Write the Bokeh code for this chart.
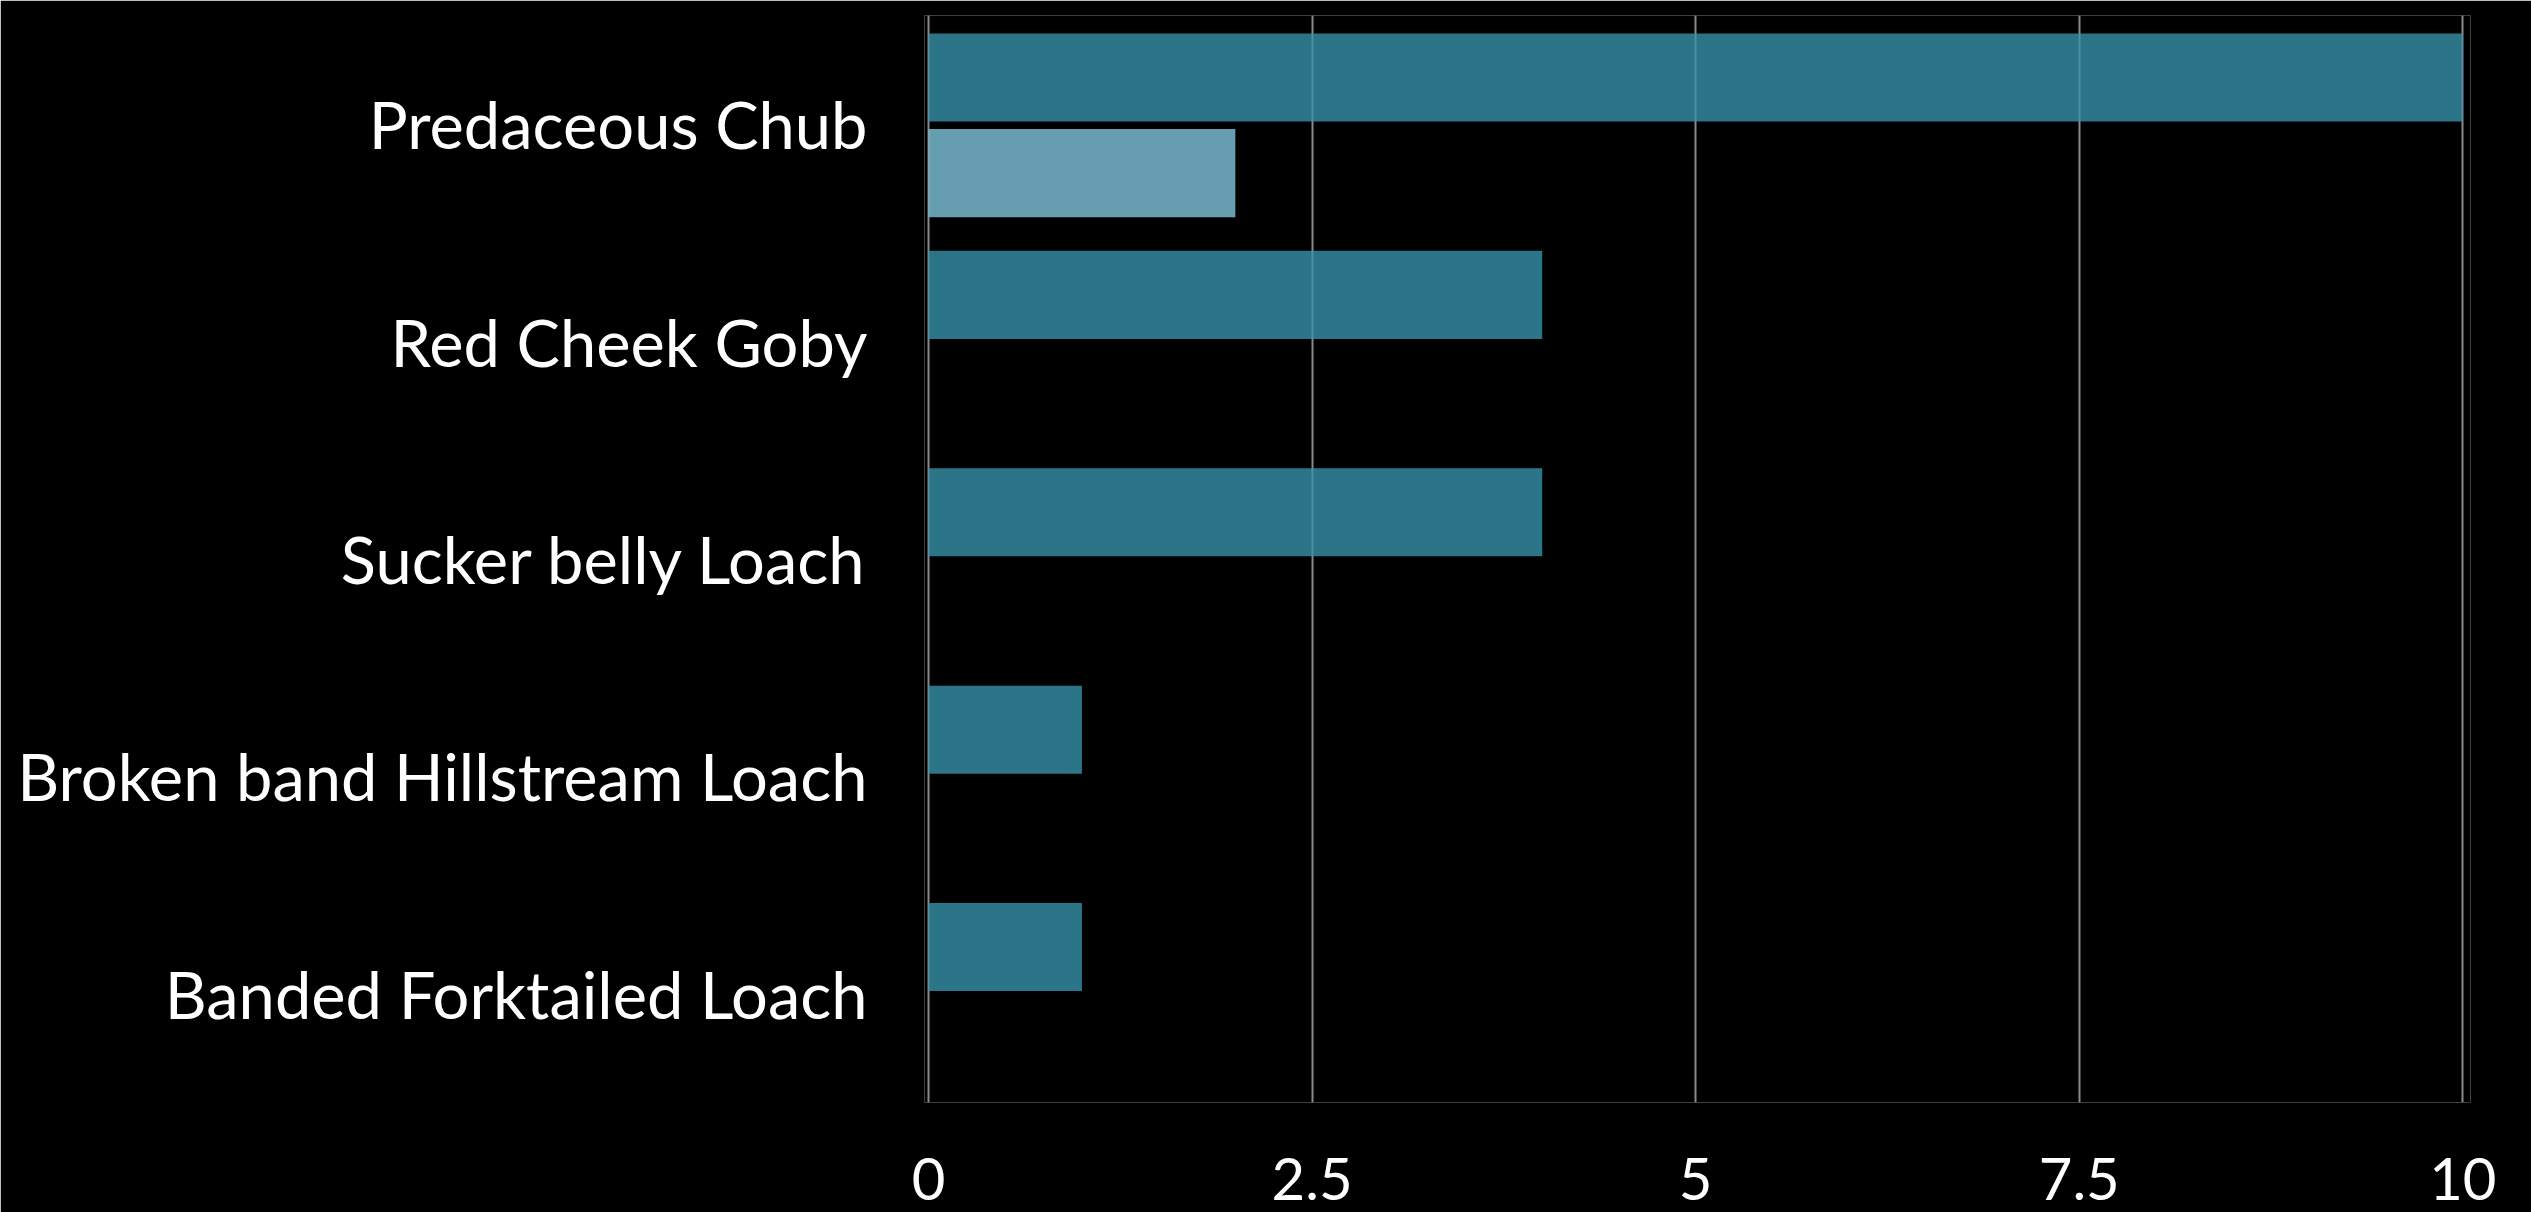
from bokeh.plotting import figure
from bokeh.models import FactorRange, Range1d, ColumnDataSource, FixedTicker
from bokeh.transform import dodge
from bokeh.embed import file_html
from bokeh.resources import INLINE

# Data (bottom -> top order for the categorical y axis)
species = ["Banded Forktailed Loach", "Broken band Hillstream Loach",
           "Sucker belly Loach", "Red Cheek Goby", "Predaceous Chub"]
series_a = [1, 1, 4, 4, 10]
series_b = [0, 0, 0, 0, 2]
x_ticks = [0, 2.5, 5, 7.5, 10]
x_tick_labels = {0: "0", 2.5: "2.5", 5: "5", 7.5: "7.5", 10: "10"}

src = ColumnDataSource(dict(cat=species, a=series_a, b=series_b))

p = figure(y_range=FactorRange(*species, range_padding=0),
           x_range=Range1d(-0.026, 10.05),
           width=2531, height=1212,
           min_border_left=924, min_border_top=15, min_border_right=61,
           min_border_bottom=110,
           output_backend="svg", toolbar_location=None,
           background_fill_color="black", border_fill_color="black")
p.outline_line_color = None

p.hbar(y=dodge("cat", 0.215, range=p.y_range), right="a", left=0, height=0.405,
       source=src, fill_color="#3792AB", fill_alpha=0.8, line_color=None)
p.hbar(y=dodge("cat", -0.225, range=p.y_range), right="b", left=0, height=0.405,
       source=src, fill_color="#81C4DC", fill_alpha=0.8, line_color=None)

# Grid
p.ygrid.grid_line_color = None
p.xgrid.grid_line_color = "#8a8a8a"
p.xgrid.grid_line_width = 2
p.xgrid.ticker = FixedTicker(ticks=x_ticks)

# Axes
p.xaxis.ticker = FixedTicker(ticks=x_ticks)
p.xaxis.major_label_overrides = x_tick_labels
for ax in (p.xaxis[0], p.yaxis[0]):
    ax.axis_line_color = None
    ax.major_tick_line_color = None
    ax.minor_tick_line_color = None
    ax.major_label_text_color = "white"
    ax.major_label_text_font = "Lato"
p.xaxis.major_label_text_font_size = "58px"
p.xaxis.major_label_text_line_height = 0.8
p.xaxis.major_label_standoff = 49
p.yaxis.major_label_text_font_size = "65px"
p.yaxis.major_label_standoff = 51

open("out.html", "w").write(file_html(p, INLINE))
